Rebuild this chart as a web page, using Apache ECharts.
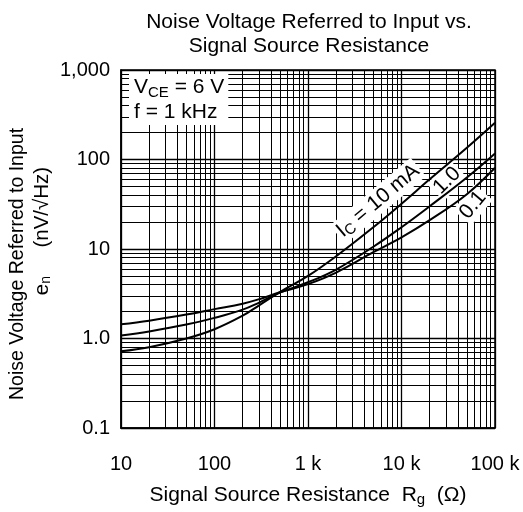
<!DOCTYPE html>
<html>
<head>
<meta charset="utf-8">
<script src="https://cdn.jsdelivr.net/npm/echarts@6/dist/echarts.min.js"></script>
<style>html,body{margin:0;padding:0;background:#fff;}#c{width:523px;height:512px;}</style>
</head>
<body>
<div id="c"></div>
<script>
// ---- data ----
const resistance = [10, 20, 50, 100, 200, 300, 500, 1000, 2000, 5000, 10000, 20000, 50000, 100000];
const en10mA = [0.72, 0.80, 1.0, 1.27, 1.8, 2.35, 3.3, 5.0, 8.3, 17.5, 32, 60, 135, 257];
const en1mA  = [1.08, 1.20, 1.43, 1.70, 2.10, 2.52, 3.25, 4.25, 5.9, 10.6, 17.5, 30, 63, 117];
const en01mA = [1.44, 1.58, 1.85, 2.13, 2.45, 2.75, 3.28, 4.05, 5.45, 9.2, 13.5, 21, 41, 80.8];

const xTickValues = [10, 100, 1000, 10000, 100000];
const xTickLabels = ['10', '100', '1 k', '10 k', '100 k'];
const yTickValues = [0.1, 1, 10, 100, 1000];
const yTickLabels = ['0.1', '1.0', '10', '100', '1,000'];
const minorMultipliers = [2, 3, 4, 5, 6, 7, 8, 9];

const curveLabels = [
  {series: 0, coord: [5600, 34.5], rotate: 40, text: '{a|I}{s|C}{a| = 10 mA}'},
  {series: 1, coord: [30700, 58], rotate: 45, text: '{a|1.0}'},
  {series: 2, coord: [58000, 31], rotate: 50, text: '{a|0.1}'}
];

const FONT = '"Liberation Sans", Arial, sans-serif';
function richFor(size, sub, lh) {
  return {
    a: {fontSize: size, fontFamily: FONT, fontWeight: 'normal', color: '#000', lineHeight: lh},
    s: {fontSize: sub, fontFamily: FONT, fontWeight: 'normal', color: '#000', lineHeight: sub, verticalAlign: 'bottom'}
  };
}

const xMinor = [], yMinor = [];
xTickValues.slice(0, -1).forEach(d => minorMultipliers.forEach(m => xMinor.push({xAxis: d * m})));
yTickValues.slice(0, -1).forEach(d => minorMultipliers.forEach(m => yMinor.push({yAxis: d * m})));

function pairs(ys) { return resistance.map((r, i) => [r, ys[i]]); }

const chart = echarts.init(document.getElementById('c'), null, {renderer: 'canvas'});

const curveSeries = [en10mA, en1mA, en01mA].map((ys, idx) => {
  const lab = curveLabels.find(l => l.series === idx);
  return {
    type: 'line',
    data: pairs(ys),
    smooth: 0.4,
    showSymbol: false,
    symbol: 'none',
    z: 5,
    lineStyle: {color: '#000', width: 2},
    animation: false,
    markPoint: {
      symbol: 'circle',
      symbolSize: 1,
      itemStyle: {color: 'rgba(0,0,0,0)'},
      silent: true,
      animation: false,
      data: [{
        coord: lab.coord,
        label: {
          show: true,
          position: 'inside',
          rotate: lab.rotate,
          formatter: lab.text,
          backgroundColor: '#fff',
          padding: [0, 2],
          rich: richFor(21, 15, 24)
        }
      }]
    }
  };
});

const option = {
  backgroundColor: '#fff',
  animation: false,
  title: [
    {
      text: 'Noise Voltage Referred to Input vs.\nSignal Source Resistance',
      left: 304, top: 5, textAlign: 'center',
      textStyle: {fontSize: 21, fontWeight: 'normal', color: '#000', fontFamily: FONT, lineHeight: 24}
    },
    {
      text: '{a|V}{s|CE}{a| = 6 V}\n{a|f = 1 kHz}',
      left: 129, top: 72,
      backgroundColor: '#fff',
      padding: [3, 4, 2, 5],
      textStyle: {fontWeight: 'normal', rich: richFor(21, 15, 25)}
    }
  ],
  grid: {left: 121, right: 28, top: 70, bottom: 70, show: true, borderColor: '#000', borderWidth: 1.5, backgroundColor: 'transparent'},
  xAxis: {
    type: 'log', logBase: 10, min: 10, max: 100000,
    axisLine: {show: true, lineStyle: {color: '#000', width: 1.5}},
    axisTick: {show: false},
    splitLine: {show: true, lineStyle: {color: '#000', width: 1.3}},
    axisLabel: {
      color: '#000', fontSize: 20, fontFamily: FONT, margin: 26,
      formatter: v => { const i = xTickValues.findIndex(t => Math.abs(t - v) / t < 1e-6); return i >= 0 ? xTickLabels[i] : ''; }
    },
    name: '{a|Signal Source Resistance  R}{s|g}{a|  (Ω)}',
    nameLocation: 'middle', nameGap: 55,
    nameTextStyle: {rich: richFor(21, 15, 24)}
  },
  yAxis: {
    type: 'log', logBase: 10, min: 0.1, max: 1000,
    axisLine: {show: true, lineStyle: {color: '#000', width: 1.5}},
    axisTick: {show: false},
    splitLine: {show: true, lineStyle: {color: '#000', width: 1.3}},
    axisLabel: {
      color: '#000', fontSize: 20, fontFamily: FONT, margin: 11,
      formatter: v => { const i = yTickValues.findIndex(t => Math.abs(t - v) / t < 1e-6); return i >= 0 ? yTickLabels[i] : ''; }
    }
  },
  graphic: [
    {
      type: 'text', x: 18, y: 264, rotation: Math.PI / 2,
      style: {text: 'Noise Voltage Referred to Input', fontSize: 19.5, fontFamily: FONT, fill: '#000', align: 'center', verticalAlign: 'middle'}
    },
    {
      type: 'text', x: 42, y: 231, rotation: Math.PI / 2,
      style: {text: '{a|e}{s|n}{a|     (nV/√Hz)}', rich: richFor(20.5, 14, 22), align: 'center', verticalAlign: 'middle'}
    }
  ],
  series: [
    {
      type: 'line', data: [], z: 1, animation: false,
      markLine: {
        silent: true, animation: false, symbol: ['none', 'none'],
        label: {show: false},
        lineStyle: {color: '#000', width: 1, type: 'solid'},
        emphasis: {disabled: true},
        data: xMinor.concat(yMinor)
      }
    }
  ].concat(curveSeries)
};
chart.setOption(option);
</script>
</body>
</html>
